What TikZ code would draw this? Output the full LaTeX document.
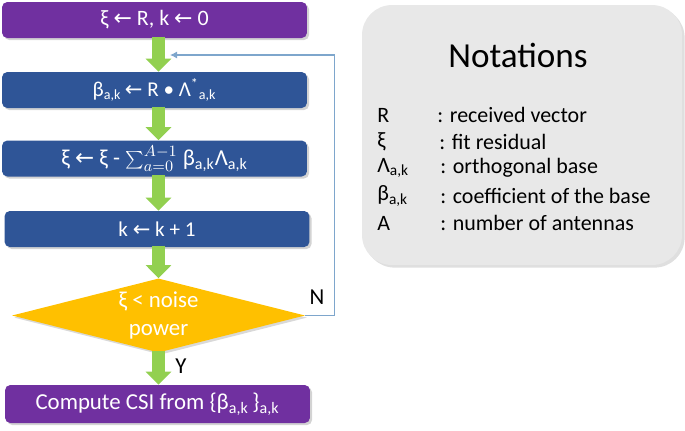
\documentclass[tikz,border=0pt]{standalone}
\usepackage{fontspec}
\setmainfont{Carlito}
\newfontfamily\arrowfont{DejaVu Sans}
\usetikzlibrary{arrows.meta,shapes.geometric,shadows}

\definecolor{boxpurple}{HTML}{7030A0}
\definecolor{boxblue}{HTML}{2F5597}
\definecolor{flowgreen}{HTML}{92D050}
\definecolor{decgold}{HTML}{FFC000}
\definecolor{loopblue}{HTML}{7EA6CC}
\definecolor{notegray}{HTML}{E8E8E8}

\newcommand{\larrow}{{\arrowfont\char"2190}}

\begin{document}
\begin{tikzpicture}[x=0.02cm, y=-0.02cm,
    box/.style={rectangle, rounded corners=3pt, text=white, minimum width=6.1cm,
        minimum height=0.72cm, inner sep=0pt, font=\fontsize{12}{14}\selectfont,
        drop shadow={shadow xshift=1.2pt, shadow yshift=-1.2pt, opacity=0.35}},
    flow/.style={flowgreen, line width=0.26cm, -{Triangle[width=0.5cm, length=0.26cm]}, shorten <=-1pt},
    feedback/.style={loopblue, line width=0.6pt, -{Latex[length=4pt, width=4pt]}},
    legend/.style={anchor=west, inner sep=0pt, font=\fontsize{12.5}{14}\selectfont}]

    \useasboundingbox (0,0) rectangle (685,430);

    % 流程框
    \node[box, fill=boxpurple, font=\fontsize{12.5}{14}\selectfont] (init) at (154.5,20) {ξ \larrow\ R,\ k \larrow\ 0};
    \node[box, fill=boxblue] (coef) at (154.5,90) {β\textsubscript{a,k}\,\larrow\ R • Λ\textsuperscript{*}\textsubscript{a,k}};
    \node[box, fill=boxblue, font=\fontsize{13}{15}\selectfont] (resid) at (154.5,158.5) {ξ \larrow\ ξ - $\sum_{a=0}^{A-1}$ β\textsubscript{a,k}Λ\textsubscript{a,k}};
    \node[box, fill=boxblue] (incr) at (157,229) {k \larrow\ k + 1};
    \node[diamond, aspect=3, fill=decgold, text=white, minimum width=5.86cm, minimum height=1.38cm,
        inner sep=0pt, align=center, font=\fontsize{13}{16}\selectfont,
        drop shadow={shadow xshift=1.2pt, shadow yshift=-1.2pt, opacity=0.3}]
        (test) at (158.5,315.5) {ξ < noise\\power};
    \node[box, fill=boxpurple, minimum height=0.76cm, font=\fontsize{13}{15}\selectfont]
        (csi) at (157.5,404) {Compute CSI from \{β\textsubscript{a,k}\,\}\textsubscript{a,k}};

    % 箭头
    \draw[flow] (init.south -| test) -- (coef.north -| test);
    \draw[flow] (coef.south -| test) -- (resid.north -| test);
    \draw[flow] (resid.south -| test) -- (incr.north -| test);
    \draw[flow] (incr.south -| test) -- (test.north);
    \draw[flow] (test.south) -- (csi.north -| test);
    \node[font=\fontsize{13}{15}\selectfont] (yes) at (181,366) {Y};

    % 回路
    \coordinate (back) at (170,55);
    \draw[feedback] (test.east) -- ++(29,0) |- (back);
    \node[font=\fontsize{13}{15}\selectfont] (no) at (317,297) {N};

    % 符号说明
    \node[rectangle, rounded corners=0.6cm, fill=notegray, minimum width=6.4cm, minimum height=5.2cm,
        drop shadow={shadow xshift=1.5pt, shadow yshift=-1.5pt, opacity=0.25}] (notes) at (522,135) {};
    \node[font=\fontsize{20}{22}\selectfont] (title) at (518,55) {Notations};
    \node[legend] (sR) at (377,115) {R};
    \node[legend] (dR) at (437,115) {: received vector};
    \node[legend] (sxi) at (377,142) {ξ};
    \node[legend] (dxi) at (439,142) {: fit residual};
    \node[legend] (slam) at (377,168) {Λ\textsubscript{a,k}};
    \node[legend] (dlam) at (440,168) {: orthogonal base};
    \node[legend] (sbeta) at (377,196) {β\textsubscript{a,k}};
    \node[legend] (dbeta) at (440,196) {: coefficient of the base};
    \node[legend] (sA) at (377,223) {A};
    \node[legend] (dA) at (440,223) {: number of antennas};
\end{tikzpicture}
\end{document}
